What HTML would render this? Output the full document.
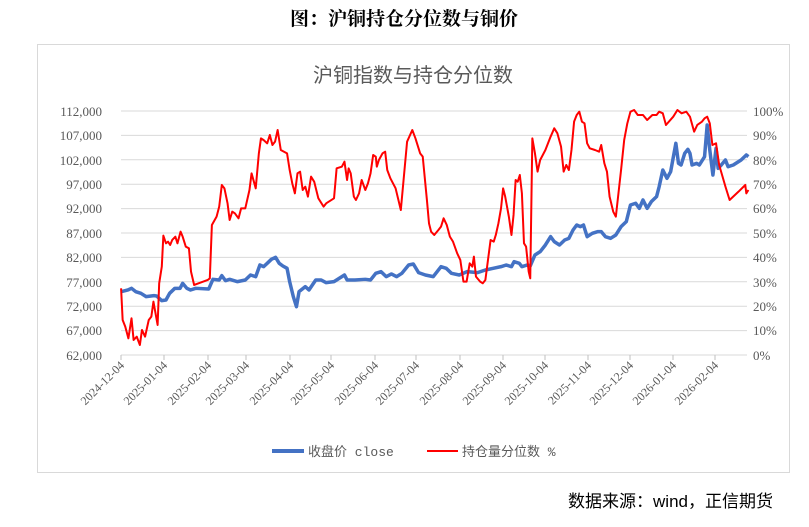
<!DOCTYPE html>
<html><head><meta charset="utf-8"><style>
body{margin:0;background:#fff;}
svg text{font-family:"Liberation Serif","Noto Serif CJK SC",serif;}
</style></head><body>
<svg width="809" height="522" xmlns="http://www.w3.org/2000/svg">
<rect width="809" height="522" fill="#fff"/>
<text x="404" y="25" text-anchor="middle" font-size="19" font-weight="bold" fill="#000" style="font-family:'Liberation Serif','Noto Serif CJK SC',serif">图：沪铜持仓分位数与铜价</text>
<rect x="37.5" y="44.5" width="752" height="428" fill="#fff" stroke="#d9d9d9"/>
<text x="413" y="82" text-anchor="middle" font-size="20" fill="#595959" style="font-family:'Liberation Sans','Noto Sans CJK SC',sans-serif">沪铜指数与持仓分位数</text>
<g stroke="#d9d9d9" stroke-width="1">
<line x1="121" x2="747" y1="111" y2="111"/><line x1="121" x2="747" y1="135.4" y2="135.4"/>
<line x1="121" x2="747" y1="159.8" y2="159.8"/><line x1="121" x2="747" y1="184.2" y2="184.2"/>
<line x1="121" x2="747" y1="208.6" y2="208.6"/><line x1="121" x2="747" y1="233" y2="233"/>
<line x1="121" x2="747" y1="257.4" y2="257.4"/><line x1="121" x2="747" y1="281.8" y2="281.8"/>
<line x1="121" x2="747" y1="306.2" y2="306.2"/><line x1="121" x2="747" y1="330.6" y2="330.6"/>
<line x1="121" x2="747" y1="355" y2="355"/>
</g>
<g stroke="#bfbfbf"><line x1="121" x2="121" y1="355" y2="360"/><line x1="164" x2="164" y1="355" y2="360"/><line x1="208" x2="208" y1="355" y2="360"/><line x1="246" x2="246" y1="355" y2="360"/><line x1="290" x2="290" y1="355" y2="360"/><line x1="331" x2="331" y1="355" y2="360"/><line x1="375" x2="375" y1="355" y2="360"/><line x1="416" x2="416" y1="355" y2="360"/><line x1="460" x2="460" y1="355" y2="360"/><line x1="503" x2="503" y1="355" y2="360"/><line x1="545" x2="545" y1="355" y2="360"/><line x1="588" x2="588" y1="355" y2="360"/><line x1="630" x2="630" y1="355" y2="360"/><line x1="673" x2="673" y1="355" y2="360"/><line x1="715" x2="715" y1="355" y2="360"/></g>
<g font-size="13" fill="#595959" text-anchor="end">
<text x="102" y="116">112,000</text><text x="102" y="140">107,000</text><text x="102" y="165">102,000</text><text x="102" y="189">97,000</text><text x="102" y="213">92,000</text><text x="102" y="238">87,000</text><text x="102" y="262">82,000</text><text x="102" y="287">77,000</text><text x="102" y="311">72,000</text><text x="102" y="335">67,000</text><text x="102" y="360">62,000</text>
</g>
<g font-size="13" fill="#595959" text-anchor="start">
<text x="753" y="116">100%</text><text x="753" y="140">90%</text><text x="753" y="165">80%</text><text x="753" y="189">70%</text><text x="753" y="213">60%</text><text x="753" y="238">50%</text><text x="753" y="262">40%</text><text x="753" y="287">30%</text><text x="753" y="311">20%</text><text x="753" y="335">10%</text><text x="753" y="360">0%</text>
</g>
<g font-size="12" fill="#595959" text-anchor="end">
<text transform="translate(125,366) rotate(-45)">2024-12-04</text>
<text transform="translate(168,366) rotate(-45)">2025-01-04</text>
<text transform="translate(212,366) rotate(-45)">2025-02-04</text>
<text transform="translate(250,366) rotate(-45)">2025-03-04</text>
<text transform="translate(294,366) rotate(-45)">2025-04-04</text>
<text transform="translate(335,366) rotate(-45)">2025-05-04</text>
<text transform="translate(379,366) rotate(-45)">2025-06-04</text>
<text transform="translate(420,366) rotate(-45)">2025-07-04</text>
<text transform="translate(464,366) rotate(-45)">2025-08-04</text>
<text transform="translate(507,366) rotate(-45)">2025-09-04</text>
<text transform="translate(549,366) rotate(-45)">2025-10-04</text>
<text transform="translate(592,366) rotate(-45)">2025-11-04</text>
<text transform="translate(634,366) rotate(-45)">2025-12-04</text>
<text transform="translate(677,366) rotate(-45)">2026-01-04</text>
<text transform="translate(719,366) rotate(-45)">2026-02-04</text>
</g>
<g transform="translate(0,90) scale(0.5219,0.3333)" fill="none" stroke-linejoin="round">
<polyline vector-effect="non-scaling-stroke" stroke="#4472c4" stroke-width="3.5" points="232,605 245,600 252,595 260,605 270,610 280,620 295,617 300,618 310,632 318,630 325,610 335,595 345,595 350,580 358,595 365,600 375,595 400,597 408,568 420,570 425,557 432,572 440,568 455,575 470,570 480,555 490,560 498,525 505,530 512,520 520,508 528,502 535,520 542,528 550,535 555,575 562,620 568,650 573,605 585,590 592,600 605,570 615,570 625,578 640,575 660,555 665,570 680,570 700,568 710,570 720,550 730,545 740,560 750,552 760,560 770,550 783,525 792,522 802,548 815,555 830,560 845,530 855,535 865,550 880,555 895,545 915,548 930,540 945,535 960,530 970,525 980,530 985,515 995,520 1000,530 1010,525 1016,528 1025,495 1035,485 1045,465 1055,440 1062,455 1072,465 1082,450 1090,445 1098,420 1105,405 1112,410 1118,405 1125,440 1135,430 1145,425 1152,425 1160,440 1170,445 1180,435 1190,410 1200,395 1208,345 1218,340 1225,355 1232,330 1240,355 1248,335 1258,320 1263,290 1270,240 1278,265 1285,245 1295,160 1300,220 1305,225 1312,190 1318,178 1322,190 1326,225 1335,220 1340,225 1350,200 1355,105 1360,180 1366,255 1372,175 1376,235 1382,225 1390,210 1395,230 1405,225 1420,210 1430,195 1434,200"/>
<polyline vector-effect="non-scaling-stroke" stroke="#ff0000" stroke-width="2" points="232,595 235,690 240,710 246,745 252,685 256,750 262,740 268,765 272,720 278,740 285,690 290,680 294,635 298,670 302,705 305,580 310,530 313,437 318,460 322,455 326,465 330,450 336,440 340,460 346,425 350,440 356,470 362,475 366,545 372,585 398,570 402,565 406,405 415,380 420,350 425,285 430,295 436,340 440,390 445,365 450,370 457,385 462,355 470,355 478,300 482,250 490,295 496,190 500,145 505,150 512,160 517,135 522,165 527,155 532,120 538,180 550,190 555,240 560,280 565,310 570,250 575,245 580,300 585,290 590,320 596,260 602,275 610,325 620,350 625,340 640,325 645,235 655,230 660,215 665,270 668,235 672,250 678,320 682,330 688,310 693,270 700,300 705,280 710,250 715,195 720,200 722,230 726,210 733,190 738,185 742,240 748,265 758,295 768,360 780,155 790,120 796,145 805,190 810,200 818,330 822,400 826,425 832,435 840,420 845,410 850,385 856,405 862,440 868,455 876,490 882,510 888,575 894,575 900,520 905,530 908,500 912,560 920,575 925,580 930,570 935,510 940,450 946,455 950,435 955,400 960,355 964,295 968,320 975,380 980,435 984,375 988,270 992,275 996,255 1000,310 1004,460 1008,470 1013,545 1016,565 1020,145 1025,190 1030,245 1035,210 1045,180 1055,140 1062,115 1068,130 1075,170 1080,245 1085,225 1090,240 1095,180 1100,95 1105,75 1110,65 1115,95 1120,100 1125,160 1130,175 1140,180 1148,185 1152,165 1158,220 1163,245 1168,320 1175,365 1180,380 1185,310 1190,240 1196,150 1202,100 1208,65 1215,60 1222,75 1232,75 1240,90 1250,75 1258,75 1263,65 1270,70 1276,105 1290,80 1298,60 1306,70 1315,65 1322,80 1330,125 1336,105 1345,95 1350,85 1355,80 1360,100 1365,165 1372,160 1378,225 1390,290 1398,330 1415,305 1428,285 1430,310 1434,300"/>
</g>
<line x1="272" x2="304" y1="451" y2="451" stroke="#4472c4" stroke-width="4"/>
<text x="308" y="456" font-size="13" fill="#595959" style="font-family:'Liberation Mono','Noto Sans CJK SC',monospace">收盘价 close</text>
<line x1="427" x2="458" y1="451" y2="451" stroke="#ff0000" stroke-width="2"/>
<text x="462" y="456" font-size="13" fill="#595959" style="font-family:'Liberation Mono','Noto Sans CJK SC',monospace">持仓量分位数 %</text>
<text x="773" y="507" text-anchor="end" font-size="17" fill="#000" style="font-family:'Liberation Sans','Noto Sans CJK SC',sans-serif">数据来源：wind，正信期货</text>
</svg>
</body></html>
